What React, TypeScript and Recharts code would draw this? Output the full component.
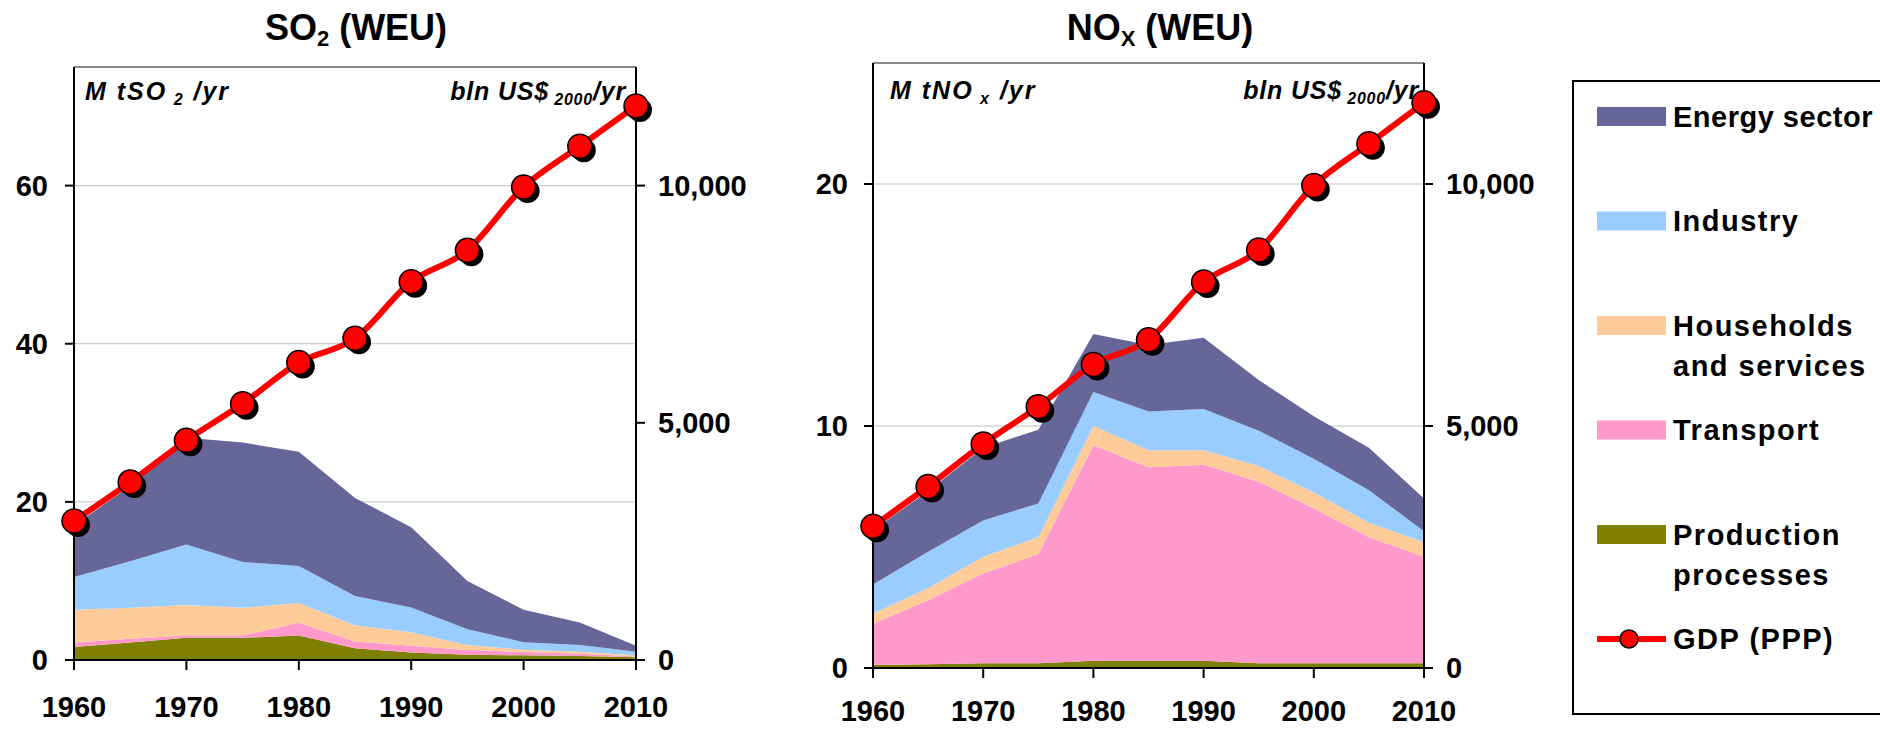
import { ComposedChart, Area, Line, XAxis, YAxis, CartesianGrid, ReferenceLine } from 'recharts'

const FONT = '"Liberation Sans", Arial, Helvetica, sans-serif'

// 5-year steps, decade ticks on the axis
const years = [1960, 1965, 1970, 1975, 1980, 1985, 1990, 1995, 2000, 2005, 2010]
const decadeTicks = [1960, 1970, 1980, 1990, 2000, 2010]

// GDP (PPP), bln US$2000/yr – same line on both panels
const gdpPPP = [2930, 3750, 4630, 5400, 6270, 6780, 7975, 8635, 9970, 10830, 11680]
const gdpTicks = [0, 5000, 10000]

// SO2 (WEU), Mt SO2/yr per sector
const so2Production = [1.65, 2.2, 2.8, 2.8, 3.1, 1.5, 0.95, 0.65, 0.6, 0.5, 0.35]
const so2Transport = [0.55, 0.5, 0.3, 0.3, 1.6, 0.85, 0.85, 0.6, 0.4, 0.3, 0.1]
const so2Households = [4.15, 3.9, 3.85, 3.5, 2.5, 2.05, 1.7, 0.65, 0.3, 0.25, 0.15]
const so2Industry = [4.15, 5.9, 7.65, 5.8, 4.7, 3.7, 3.15, 2.0, 0.95, 0.85, 0.45]
const so2Energy = [6.5, 9.5, 13.5, 15.1, 14.45, 12.4, 10.15, 6.1, 4.1, 2.85, 0.75]
const so2Ticks = [0, 20, 40, 60]

// NOx (WEU), Mt NOx/yr per sector
const noxProduction = [0.12, 0.15, 0.2, 0.2, 0.3, 0.3, 0.3, 0.2, 0.2, 0.2, 0.2]
const noxTransport = [1.71, 2.65, 3.7, 4.5, 8.9, 8.0, 8.1, 7.5, 6.4, 5.2, 4.4]
const noxHouseholds = [0.42, 0.5, 0.7, 0.7, 0.8, 0.7, 0.6, 0.65, 0.65, 0.6, 0.6]
const noxIndustry = [1.2, 1.5, 1.5, 1.4, 1.4, 1.6, 1.7, 1.45, 1.4, 1.35, 0.45]
const noxEnergy = [2.25, 2.5, 3.0, 3.05, 2.4, 2.75, 2.95, 2.1, 1.75, 1.75, 1.35]
const noxTicks = [0, 10, 20]

const sectorKeys = ['production', 'transport', 'households', 'industry', 'energy']
const sectorColors: Record<string, string> = {
  energy: '#666699',
  industry: '#99CCFF',
  households: '#FFCC99',
  transport: '#FF99CC',
  production: '#808000',
}

const legendLabels = [
  ['Energy sector'],
  ['Industry'],
  ['Households', 'and services'],
  ['Transport'],
  ['Production', 'processes'],
]
const legendColors = ['#666699', '#99CCFF', '#FFCC99', '#FF99CC', '#808000']

function buildRows(p: number[], t: number[], h: number[], ind: number[], e: number[]) {
  return years.map((year, i) => ({
    year,
    production: p[i],
    transport: t[i],
    households: h[i],
    industry: ind[i],
    energy: e[i],
    gdp: gdpPPP[i],
  }))
}

const so2Rows = buildRows(so2Production, so2Transport, so2Households, so2Industry, so2Energy)
const noxRows = buildRows(noxProduction, noxTransport, noxHouseholds, noxIndustry, noxEnergy)

const tickStyle = { fontFamily: FONT, fontSize: 29, fontWeight: 700, fill: '#000' }
const axisStroke = { stroke: '#000', strokeWidth: 2 }

function renderGdpDot(props: { cx?: number; cy?: number; index?: number }) {
  const { cx = 0, cy = 0, index = 0 } = props
  return (
    <g key={`gdp-dot-${index}`}>
      <circle cx={cx + 4} cy={cy + 4} r={12} fill="#000" />
      <circle cx={cx} cy={cy} r={12} fill="#FF0000" stroke="#000" strokeWidth={1.5} />
    </g>
  )
}

interface PanelProps {
  rows: ReturnType<typeof buildRows>
  left: number
  marginTop: number
  leftAxisWidth: number
  rightAxisWidth: number
  xAxisHeight: number
  xTickMargin: number
  yMax: number
  yTicks: number[]
  leftTickMargin: number
}

function EmissionPanel({
  rows,
  left,
  marginTop,
  leftAxisWidth,
  rightAxisWidth,
  xAxisHeight,
  xTickMargin,
  yMax,
  yTicks,
  leftTickMargin,
}: PanelProps) {
  return (
    <div style={{ position: 'absolute', left, top: 0 }}>
      <ComposedChart
        width={780}
        height={729}
        data={rows}
        margin={{ top: marginTop, right: 0, bottom: 0, left: 0 }}
      >
        <CartesianGrid yAxisId="left" vertical={false} stroke="#c0c0c0" strokeWidth={1} />
        <XAxis
          dataKey="year"
          type="number"
          domain={[1960, 2010]}
          ticks={decadeTicks}
          interval={0}
          height={xAxisHeight}
          tickSize={10}
          tickMargin={xTickMargin}
          axisLine={axisStroke}
          tickLine={axisStroke}
          tick={tickStyle}
        />
        <YAxis
          yAxisId="left"
          width={leftAxisWidth}
          domain={[0, yMax]}
          ticks={yTicks}
          interval={0}
          tickSize={9}
          tickMargin={leftTickMargin}
          axisLine={axisStroke}
          tickLine={axisStroke}
          tick={tickStyle}
        />
        <YAxis
          yAxisId="right"
          orientation="right"
          width={rightAxisWidth}
          domain={[0, 12500]}
          ticks={gdpTicks}
          interval={0}
          tickSize={9}
          tickMargin={13}
          axisLine={axisStroke}
          tickLine={axisStroke}
          tick={tickStyle}
          tickFormatter={(v: number) => v.toLocaleString('en-US')}
        />
        <ReferenceLine yAxisId="left" y={yMax} stroke="#8c8c8c" strokeWidth={2} />
        {sectorKeys.map((key) => (
          <Area
            key={key}
            yAxisId="left"
            type="linear"
            dataKey={key}
            stackId="sectors"
            stroke="none"
            fill={sectorColors[key]}
            fillOpacity={1}
            dot={false}
            activeDot={false}
            isAnimationActive={false}
          />
        ))}
        <Line
          yAxisId="right"
          type="monotone"
          dataKey="gdp"
          stroke="#FF0000"
          strokeWidth={6}
          dot={renderGdpDot}
          activeDot={false}
          isAnimationActive={false}
        />
      </ComposedChart>
    </div>
  )
}

function Labels() {
  const title = { fontFamily: FONT, fontSize: 36, fontWeight: 700, fill: '#000' }
  const unit = { fontFamily: FONT, fontSize: 25, fontWeight: 700, fontStyle: 'italic' as const, fill: '#000', letterSpacing: 2 }
  const unitRight = { ...unit, letterSpacing: 0.8 }
  return (
    <svg width={1880} height={729} style={{ position: 'absolute', left: 0, top: 0 }}>
      <text x={356} y={40} textAnchor="middle" style={title}>
        SO<tspan fontSize={22} dy={6}>2</tspan>
        <tspan dy={-6}> (WEU)</tspan>
      </text>
      <text x={1160} y={40} textAnchor="middle" style={title}>
        NO<tspan fontSize={22} dy={6}>X</tspan>
        <tspan dy={-6}> (WEU)</tspan>
      </text>

      <text x={85} y={100} style={unit}>
        M tSO<tspan fontSize={16} dy={5}> 2</tspan>
        <tspan dy={-5}> /yr</tspan>
      </text>
      <text x={626} y={100} textAnchor="end" style={unitRight}>
        bln US$<tspan fontSize={16} dy={5}> 2000</tspan>
        <tspan dy={-5}>/yr</tspan>
      </text>

      <text x={890} y={99} style={unit}>
        M tNO<tspan fontSize={16} dy={5}> x</tspan>
        <tspan dy={-5}> /yr</tspan>
      </text>
      <text x={1419} y={99} textAnchor="end" style={unitRight}>
        bln US$<tspan fontSize={16} dy={5}> 2000</tspan>
        <tspan dy={-5}>/yr</tspan>
      </text>
    </svg>
  )
}

function LegendBox() {
  const text = { fontFamily: FONT, fontSize: 29, fontWeight: 700, fill: '#000', letterSpacing: 1.5 }
  // the first label runs right up to the page edge, so it is set a little tighter
  const tight = { ...text, letterSpacing: 0.5 }
  const rowY = (i: number) => 116.5 + i * 104.5
  return (
    <svg width={320} height={729} style={{ position: 'absolute', left: 1560, top: 0 }}>
      <rect x={13} y={81} width={400} height={633} fill="#fff" stroke="#000" strokeWidth={2} />
      {legendLabels.map((lines, i) => (
        <g key={lines[0]}>
          <rect x={37} y={rowY(i) - 9.5} width={69} height={19} fill={legendColors[i]} />
          {lines.map((line, j) => (
            <text key={line} x={113} y={rowY(i) + 10 + j * 40} style={i === 0 ? tight : text}>
              {line}
            </text>
          ))}
        </g>
      ))}
      <line x1={37} x2={106} y1={rowY(5)} y2={rowY(5)} stroke="#FF0000" strokeWidth={6} />
      <circle cx={69} cy={rowY(5)} r={9} fill="#FF0000" stroke="#000" strokeWidth={1.5} />
      <text x={113} y={rowY(5) + 10} style={text}>
        GDP (PPP)
      </text>
    </svg>
  )
}

export default function App() {
  return (
    <div
      style={{
        position: 'absolute',
        left: 0,
        top: 0,
        width: 1880,
        height: 729,
        overflow: 'hidden',
        background: '#fff',
      }}
    >
      <Labels />
      <EmissionPanel
        rows={so2Rows}
        left={0}
        marginTop={67}
        leftAxisWidth={74}
        rightAxisWidth={144}
        xAxisHeight={69}
        xTickMargin={26}
        yMax={75}
        yTicks={so2Ticks}
        leftTickMargin={17}
      />
      <EmissionPanel
        rows={noxRows}
        left={780}
        marginTop={63}
        leftAxisWidth={93}
        rightAxisWidth={136}
        xAxisHeight={61}
        xTickMargin={22}
        yMax={25}
        yTicks={noxTicks}
        leftTickMargin={16}
      />
      <LegendBox />
    </div>
  )
}
